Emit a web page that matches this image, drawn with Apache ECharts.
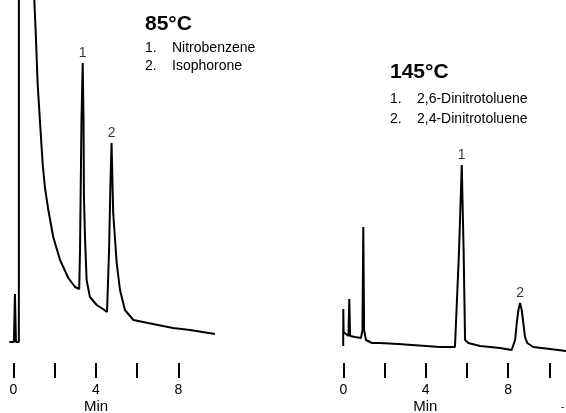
<!DOCTYPE html>
<html>
<head>
<meta charset="utf-8">
<script src="https://cdn.jsdelivr.net/npm/echarts@6/dist/echarts.min.js"></script>
<style>
  html, body { margin: 0; padding: 0; background: #fff; }
  #chart { width: 566px; height: 413px; }
</style>
</head>
<body>
<div id="chart"></div>
<script>
// retention time (min), detector response (arbitrary units)
var trace85 = [
    [-0.20, 10], [0.02, 10], [0.07, 58], [0.12, 10], [0.26, 10], [0.28, 3000],
    [1.01, 352], [1.08, 319], [1.17, 269], [1.29, 229], [1.42, 187], [1.53, 164],
    [1.69, 142], [1.93, 115], [2.26, 92], [2.66, 74], [2.99, 65], [3.19, 63],
    [3.23, 102], [3.30, 232], [3.36, 289], [3.40, 232], [3.42, 155], [3.47, 115],
    [3.55, 72], [3.71, 55], [4.04, 47], [4.34, 43], [4.54, 40], [4.59, 41],
    [4.64, 102], [4.71, 172], [4.76, 209], [4.84, 139], [5.01, 89], [5.17, 62],
    [5.41, 42], [5.82, 32], [6.53, 29], [7.74, 24], [8.57, 22], [9.78, 18]
];
var trace145 = [
    [-0.005, 6], [0.0, 43], [0.015, 20], [0.25, 16], [0.29, 53], [0.33, 16],
    [0.57, 15], [0.86, 14], [0.93, 22], [0.97, 125], [1.01, 22], [1.10, 12],
    [1.39, 9], [1.78, 9], [2.66, 8], [4.69, 5], [5.42, 5], [5.50, 5],
    [5.62, 102], [5.75, 187], [5.84, 102], [5.91, 12], [6.07, 9], [6.64, 6],
    [7.61, 4], [8.17, 2], [8.24, 3], [8.34, 12], [8.42, 29], [8.50, 42],
    [8.58, 49], [8.66, 42], [8.74, 29], [8.82, 15], [8.93, 9], [9.22, 5],
    [10.03, 3], [10.81, 1]
];
var peaks85 = [[3.36, 289, '1'], [4.76, 209, '2']];
var peaks145 = [[5.75, 187, '1'], [8.58, 49, '2']];
var compounds85 = ['Nitrobenzene', 'Isophorone'];
var compounds145 = ['2,6-Dinitrotoluene', '2,4-Dinitrotoluene'];
var ticks85 = [0, 2, 4, 6, 8];
var ticks145 = [0, 2, 4, 6, 8, 10];
var tickLabels = [0, 4, 8];

var font = 'Liberation Sans, Arial, sans-serif';

function xAxisFor(gridIndex, min, max, ticks) {
    return {
        type: 'value', gridIndex: gridIndex, min: min, max: max,
        axisLine: {show: false, onZero: false},
        splitLine: {show: false},
        axisTick: {show: true, length: 15, customValues: ticks, lineStyle: {color: '#000', width: 2}},
        axisLabel: {show: true, customValues: tickLabels, margin: 20, color: '#000', fontSize: 14, fontFamily: font},
        name: 'Min', nameLocation: 'middle', nameGap: 36, nameMoveOverlap: false,
        nameTextStyle: {color: '#000', fontSize: 15, fontFamily: font, padding: [0, 38, 0, 0]}
    };
}

// temperature title plus numbered compound list
function legendText(x, y, title, names, listTop, gap) {
    let els = [{
        type: 'text', left: x, top: y, style: {text: title, fill: '#000', font: 'bold 21px ' + font}
    }];
    names.forEach((n, i) => {
        els.push({type: 'text', left: x, top: listTop + i * gap, style: {text: (i + 1) + '.', fill: '#000', font: '14px ' + font}});
        els.push({type: 'text', left: x + 27, top: listTop + i * gap, style: {text: n, fill: '#000', font: '14px ' + font}});
    });
    return els;
}

function peakSeries(idx, peaks) {
    return {
        type: 'scatter', xAxisIndex: idx, yAxisIndex: idx, symbolSize: 0,
        data: peaks.map(p => ({value: [p[0], p[1]], name: p[2]})),
        label: {show: true, position: 'top', distance: 3, formatter: '{b}', color: '#000', fontSize: 14, fontFamily: font},
        silent: true
    };
}

var option = {
    animation: false,
    backgroundColor: '#fff',
    // y runs from -11 so the tick row sits a little below the baseline
    grid: [
        {left: 0, top: 0, width: 230, height: 363, outerBoundsMode: 'none'},
        {left: 322.7, top: 0, width: 243.3, height: 363, outerBoundsMode: 'none'}
    ],
    xAxis: [
        xAxisFor(0, -0.655, 10.51, ticks85),
        xAxisFor(1, -1, 10.81, ticks145)
    ],
    yAxis: [
        {type: 'value', gridIndex: 0, min: -11, max: 352, show: false},
        {type: 'value', gridIndex: 1, min: -11, max: 352, show: false}
    ],
    series: [
        {type: 'line', xAxisIndex: 0, yAxisIndex: 0, data: trace85, symbol: 'none', clip: true,
            lineStyle: {color: '#000', width: 2}},
        {type: 'line', xAxisIndex: 1, yAxisIndex: 1, data: trace145, symbol: 'none', clip: true,
            lineStyle: {color: '#000', width: 2}},
        peakSeries(0, peaks85),
        peakSeries(1, peaks145)
    ],
    graphic: legendText(145, 14, '85°C', compounds85, 41, 18)
        .concat(legendText(390, 62, '145°C', compounds145, 92, 20))
        .concat([{type: 'text', left: 561, top: 402, style: {text: '-', fill: '#000', font: '10px ' + font}}])
};

var chart = echarts.init(document.getElementById('chart'));
chart.setOption(option);
</script>
</body>
</html>
